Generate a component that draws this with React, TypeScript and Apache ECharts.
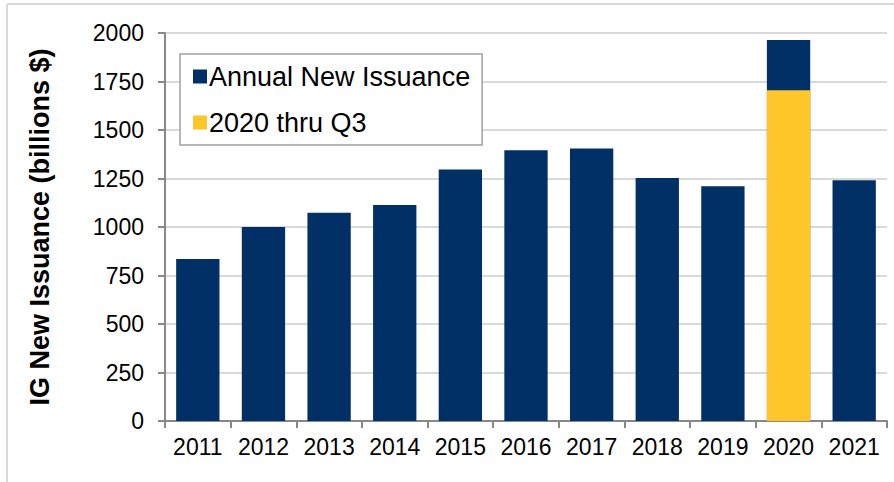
import React, { useEffect, useRef } from "react";
import * as echarts from "echarts";

const years = ["2011", "2012", "2013", "2014", "2015", "2016", "2017", "2018", "2019", "2020", "2021"];
const annualIssuance = [835, 1000, 1074, 1114, 1296, 1396, 1405, 1252, 1210, 1964, 1241];
const thruQ3_2020 = [null, null, null, null, null, null, null, null, null, 1705, null];
const seriesNames = ["Annual New Issuance", "2020 thru Q3"];
const yAxisTitle = "IG New Issuance (billions $)";

const NAVY = "#003066";
const GOLD = "#FFC629";
const FONT = "'Liberation Sans', Arial, sans-serif";

export default function App() {
  const ref = useRef<HTMLDivElement>(null);
  useEffect(() => {
    if (!ref.current) return;
    const chart = echarts.init(ref.current, null, { renderer: "svg" });
    chart.setOption({
      animation: false,
      backgroundColor: "#ffffff",
      textStyle: { fontFamily: FONT, color: "#000" },
      grid: { left: 165, right: 7, top: 33, bottom: 61, containLabel: false },
      legend: {
        orient: "vertical",
        left: 180,
        top: 54,
        padding: [9, 12, 9, 13],
        itemGap: 19,
        itemWidth: 14,
        itemHeight: 14,
        icon: "rect",
        borderColor: "#a0a0a0",
        borderWidth: 1.5,
        backgroundColor: "#fff",
        textStyle: { fontFamily: FONT, fontSize: 27, color: "#000", padding: [0, 0, 0, -3] },
        data: seriesNames,
      },
      xAxis: {
        type: "category",
        data: years,
        axisLine: { lineStyle: { color: "#888", width: 2 } },
        axisTick: { show: true, interval: 0, length: 7, lineStyle: { color: "#888", width: 2 } },
        axisLabel: {
          fontFamily: FONT,
          fontSize: 23,
          color: "#000",
          margin: 14,
          interval: 0,
          hideOverlap: false,
        },
        splitLine: { show: false },
      },
      yAxis: {
        type: "value",
        min: 0,
        max: 2000,
        interval: 250,
        name: yAxisTitle,
        nameLocation: "middle",
        nameGap: 112,
        nameRotate: 90,
        nameTextStyle: { fontFamily: FONT, fontSize: 27, fontWeight: "bold", color: "#000" },
        axisLine: { show: true, lineStyle: { color: "#888", width: 2 } },
        axisTick: { show: true, length: 7, lineStyle: { color: "#888", width: 2 } },
        axisLabel: {
          fontFamily: FONT,
          fontSize: 23,
          color: "#000",
          margin: 21,
          formatter: (v: number) => String(v),
        },
        splitLine: { show: true, lineStyle: { color: "#d9d9d9", width: 2 } },
      },
      series: [
        {
          name: seriesNames[0],
          type: "bar",
          data: annualIssuance,
          barWidth: "66%",
          barGap: "-100%",
          itemStyle: { color: NAVY },
        },
        {
          name: seriesNames[1],
          type: "bar",
          data: thruQ3_2020,
          barWidth: "66%",
          barGap: "-100%",
          itemStyle: { color: GOLD },
        },
      ],
      graphic: [
        {
          type: "line",
          shape: { x1: 7, y1: 4, x2: 894, y2: 4 },
          style: { stroke: "#d9d9d9", lineWidth: 2 },
          silent: true,
        },
        {
          type: "line",
          shape: { x1: 7, y1: 4, x2: 7, y2: 482 },
          style: { stroke: "#d9d9d9", lineWidth: 2 },
          silent: true,
        },
      ],
    });
    return () => chart.dispose();
  }, []);
  return (
    <div
      ref={ref}
      style={{ position: "fixed", left: 0, top: 0, width: 894, height: 482 }}
    />
  );
}
